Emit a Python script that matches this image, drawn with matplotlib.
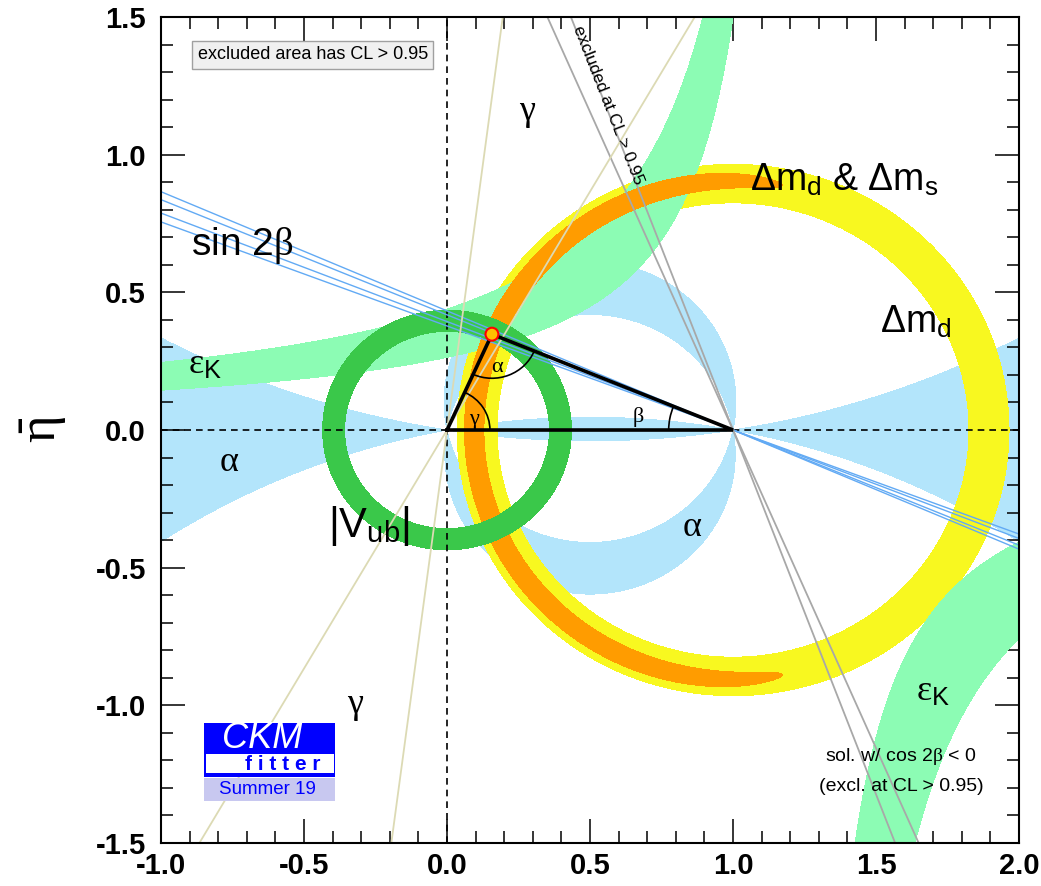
import numpy as np
import matplotlib
matplotlib.use("Agg")
import matplotlib.pyplot as plt
from matplotlib.patches import Arc, Ellipse, Rectangle
from matplotlib.ticker import MultipleLocator

plt.rcParams['font.family'] = ['Liberation Sans', 'DejaVu Sans']
plt.rcParams['mathtext.fontset'] = 'custom'
plt.rcParams['mathtext.rm'] = 'Liberation Sans'
plt.rcParams['mathtext.it'] = 'Liberation Serif'
plt.rcParams['mathtext.bf'] = 'Liberation Sans:bold'
plt.rcParams['mathtext.sf'] = 'Liberation Sans'
plt.rcParams['axes.unicode_minus'] = False

# --- constraint parameters ---
apex_rho = 0.157                 # global fit apex
apex_eta = 0.348
vub_radii = [0.358, 0.435]       # |Vub| ring around (0,0)
dmd_radii = [0.825, 0.965]       # Delta m_d ring around (1,0)
dms_radius = 0.905               # Delta m_d & Delta m_s arc
dms_halfwidth = 0.034
dms_span = 101.0                 # deg, half opening seen from (1,0)
epsk_c = 1.143                   # eps_K hyperbola eta*(c-rho)/(1-b*eta)
epsk_b = 0.22
epsk_band = [0.32, 0.556]
alpha_ranges = [(78.5, 100.0), (-10.6, 9.0)]  # deg, mod 180
beta_lines = [20.7, 21.5, 22.7, 23.4]         # sin 2beta solutions (deg)
beta_excl_lines = [66.6, 69.3]                # cos 2beta < 0 solution (deg)
gamma_lines = [60.0, 82.6]                    # deg

xticks = [-1.0, -0.5, 0.0, 0.5, 1.0, 1.5, 2.0]
xtick_labels = ['-1.0', '-0.5', '0.0', '0.5', '1.0', '1.5', '2.0']
yticks = [-1.5, -1.0, -0.5, 0.0, 0.5, 1.0, 1.5]
ytick_labels = ['-1.5', '-1.0', '-0.5', '0.0', '0.5', '1.0', '1.5']

c_alpha = '#b3e5fb'
c_dmd = '#f8f820'
c_dms = '#ff9c00'
c_epsk = '#8cfcb4'
c_vub = '#3ac84a'
c_sin2b = '#62aaf4'
c_excl = '#a8a8a8'
c_gamma = '#dcdab4'

fig = plt.figure(figsize=(10.41, 8.86), dpi=100)
ax = fig.add_axes([0.1547, 0.0485, 0.8242, 0.9323])
ax.set_xlim(-1.0, 2.0)
ax.set_ylim(-1.5, 1.5)

rho = np.linspace(-1.0, 2.0, 1100)
eta = np.linspace(-1.5, 1.5, 1100)
R, E = np.meshgrid(rho, eta)

# alpha: signed angle at (rho, eta) between directions to (0,0) and (1,0)
z = R + 1j * E
with np.errstate(divide='ignore', invalid='ignore'):
    a_s = np.degrees(np.angle((1 - z) / (-z)))
f_alpha = np.full(R.shape, 1e3)
for lo, hi in alpha_ranges:
    cen, half = 0.5 * (lo + hi), 0.5 * (hi - lo)
    d = np.abs((a_s - cen + 90) % 180 - 90) - half
    f_alpha = np.minimum(f_alpha, d)
ax.contourf(R, E, f_alpha, levels=[-200, 0], colors=[c_alpha], zorder=1)

# Delta m_d
r1 = np.hypot(R - 1, E)
ax.contourf(R, E, r1, levels=dmd_radii, colors=[c_dmd], zorder=2)

# eps_K
k = E * (epsk_c - R) / (1 - epsk_b * E)
ax.contourf(R, E, k, levels=epsk_band, colors=[c_epsk], zorder=3)

# Delta m_d & Delta m_s
phi = np.degrees(np.arctan2(E, R - 1))
delta = 180 - np.abs(phi)
chi = ((r1 - dms_radius) / dms_halfwidth) ** 2 + (delta / dms_span) ** 8
ax.contourf(R, E, chi, levels=[-1, 1], colors=[c_dms], zorder=4)

# |Vub|
r0 = np.hypot(R, E)
ax.contourf(R, E, r0, levels=vub_radii, colors=[c_vub], zorder=5)

# lines
rho_line = np.array([-1.0, 2.0])
for b in beta_lines:
    ax.plot(rho_line, np.tan(np.radians(b)) * (1 - rho_line), color=c_sin2b, lw=1.0, zorder=7)
for b in beta_excl_lines:
    ax.plot(rho_line, np.tan(np.radians(b)) * (1 - rho_line), color=c_excl, lw=1.3, zorder=7)
for g in gamma_lines:
    ax.plot(rho_line, np.tan(np.radians(g)) * rho_line, color=c_gamma, lw=1.3, zorder=7)

# axes through origin
ax.axhline(0, color='k', lw=1.2, dashes=(4, 3), zorder=6)
ax.axvline(0, color='k', lw=1.2, dashes=(4, 3), zorder=6)

# unitarity triangle
ax.plot([0, apex_rho, 1, 0], [0, apex_eta, 0, 0], color='k', lw=2.6, zorder=10,
        solid_joinstyle='miter')
ang_g = np.degrees(np.arctan2(apex_eta, apex_rho))
ang_a1 = np.degrees(np.arctan2(-apex_eta, -apex_rho)) % 360
ang_a2 = np.degrees(np.arctan2(-apex_eta, 1 - apex_rho)) % 360
ang_b = np.degrees(np.arctan2(apex_eta, apex_rho - 1))
ax.add_patch(Arc((0, 0), 0.30, 0.30, theta1=0, theta2=ang_g, color='k', lw=1.2, zorder=10))
ax.add_patch(Arc((apex_rho, apex_eta), 0.32, 0.32, theta1=ang_a1, theta2=ang_a2,
                 color='k', lw=1.2, zorder=10))
ax.add_patch(Arc((1, 0), 0.45, 0.45, theta1=ang_b, theta2=180, color='k', lw=1.2, zorder=10))
ax.add_patch(Ellipse((apex_rho, apex_eta), 0.045, 0.047, fc='#ffc000', ec='red', lw=1.5, zorder=11))
ax.text(0.177, 0.232, r'$\alpha$', fontsize=16, ha='center', va='center', zorder=11)
ax.text(0.096, 0.036, r'$\gamma$', fontsize=16, ha='center', va='center', zorder=11)
ax.text(0.668, 0.049, r'$\beta$', fontsize=16, ha='center', va='center', zorder=11)

# labels
big = 26
ax.text(0.28, 1.154, r'$\gamma$', fontsize=big, ha='center', va='center', zorder=12)
ax.text(-0.32, -1.0, r'$\gamma$', fontsize=big, ha='center', va='center', zorder=12)
ax.text(1.06, 0.905, r'Δm$_\mathrm{d}$ & Δm$_\mathrm{s}$', fontsize=27, ha='left', va='center', zorder=12)
ax.text(1.515, 0.39, r'Δm$_\mathrm{d}$', fontsize=27, ha='left', va='center', zorder=12)
ax.text(-0.895, 0.67, r'sin 2$\beta$', fontsize=28, ha='left', va='center', zorder=12)
ax.text(-0.905, 0.24, r'$\varepsilon_\mathrm{K}$', fontsize=big, ha='left', va='center', zorder=12)
ax.text(1.64, -0.95, r'$\varepsilon_\mathrm{K}$', fontsize=big, ha='left', va='center', zorder=12)
ax.text(-0.762, -0.116, r'$\alpha$', fontsize=big, ha='center', va='center', zorder=12)
ax.text(0.857, -0.352, r'$\alpha$', fontsize=big, ha='center', va='center', zorder=12)
ax.text(-0.415, -0.35, r'|V$_\mathrm{ub}$|', fontsize=30, ha='left', va='center', zorder=12)
ax.text(1.587, -1.187, r'sol. w/ cos 2$\beta$ < 0', fontsize=14, ha='center', va='center', zorder=12)
ax.text(1.587, -1.296, '(excl. at CL > 0.95)', fontsize=14, ha='center', va='center', zorder=12)
ax.text(0.562, 1.18, 'excluded at CL > 0.95', fontsize=12.5, rotation=-68.6,
        rotation_mode='anchor', ha='center', va='center', zorder=12)
ax.text(-0.872, 1.363, 'excluded area has CL > 0.95', fontsize=13, ha='left', va='center', zorder=12,
        bbox=dict(boxstyle='square,pad=0.3', fc='#f0f0f0', ec='#a0a0a0', lw=1))

# CKMfitter logo
ax.add_patch(Rectangle((0.0501, 0.0803), 0.1527, 0.0653, transform=ax.transAxes,
                       fc='#0000ff', ec='none', zorder=13))
ax.add_patch(Rectangle((0.0521, 0.0844), 0.1495, 0.0233, transform=ax.transAxes,
                       fc='white', ec='none', zorder=14))
ax.add_patch(Rectangle((0.0501, 0.0512), 0.1527, 0.0279, transform=ax.transAxes,
                       fc='#c8c8f0', ec='none', zorder=13))
ax.text(0.1177, 0.127, 'CKM', transform=ax.transAxes, fontsize=26, style='italic',
        color='white', ha='center', va='center', zorder=15)
ax.text(0.1422, 0.0953, 'f i t t e r', transform=ax.transAxes, fontsize=15, fontweight='bold',
        color='#0000ff', ha='center', va='center', zorder=15)
ax.text(0.1235, 0.0654, 'Summer 19', transform=ax.transAxes, fontsize=13.5,
        color='#0000ff', ha='center', va='center', zorder=15)

# axes styling
ax.set_xticks(xticks)
ax.set_xticklabels(xtick_labels, fontsize=21, fontweight='bold')
ax.set_yticks(yticks)
ax.set_yticklabels(ytick_labels, fontsize=21, fontweight='bold')
ax.xaxis.set_minor_locator(MultipleLocator(0.1))
ax.yaxis.set_minor_locator(MultipleLocator(0.1))
ax.tick_params(which='both', direction='in', top=True, right=True, width=1.1)
ax.tick_params(which='major', length=17)
ax.tick_params(which='minor', length=8.5)
ax.tick_params(axis='x', pad=6.5)
ax.tick_params(axis='y', pad=11)
for sp in ax.spines.values():
    sp.set_linewidth(1.5)
    sp.set_zorder(20)
ax.set_ylabel(r'$\bar{\eta}$', fontsize=38)
ax.yaxis.set_label_coords(-0.107, 0.5)

fig.savefig('out.png', dpi=100)
